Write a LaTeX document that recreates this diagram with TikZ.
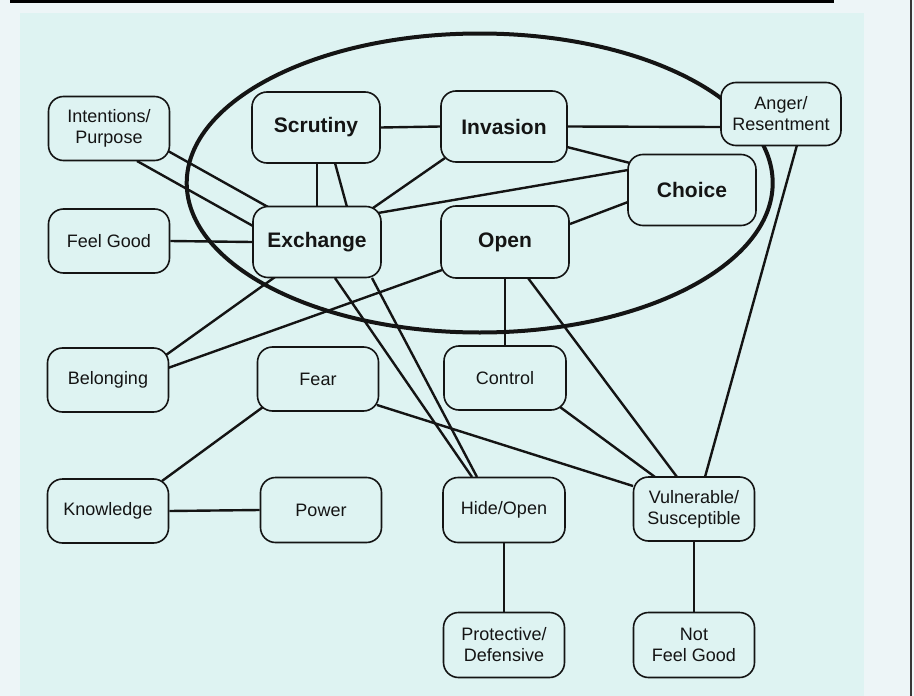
\documentclass[tikz,border=0pt]{standalone}
\usepackage{fontspec}
\setmainfont{Liberation Sans}
\usetikzlibrary{calc}
\definecolor{panel}{RGB}{222,243,242}
\definecolor{outer}{RGB}{237,245,247}
\definecolor{ink}{RGB}{20,20,20}
\pgfdeclarelayer{back}
\pgfdeclarelayer{links}
\pgfsetlayers{back,links,main}
\begin{document}
\begin{tikzpicture}[x=1pt,y=-1pt,
  box/.style={draw=ink, line width=1.6pt, rounded corners=15pt, fill=panel, text=ink,
    font=\fontsize{18}{21}\selectfont, align=center, minimum width=121pt, minimum height=64pt, inner sep=2pt},
  bigbox/.style={box, font=\fontsize{21}{24}\selectfont\bfseries, minimum width=128pt, minimum height=71pt},
  link/.style={draw=ink, line width=2.4pt},
  ring/.style={draw=ink, line width=4pt}]
\useasboundingbox (0,0) rectangle (914,696);
\begin{pgfonlayer}{back}
  \fill[outer] (0,0) rectangle (914,696);
  \fill[panel] (20,13) rectangle (864,696);
  \fill[black] (10,0) rectangle (834,3);
  \fill[ink!85] (910,0) rectangle (912,696);
\end{pgfonlayer}

% nodes
\node[box] (intent) at (109,128.5) {Intentions/\\Purpose};
\node[box] (feelgood) at (109,241) {Feel Good};
\node[box] (belong) at (108,380) {Belonging};
\node[box] (know) at (108,511) {Knowledge};
\node[bigbox] (scrut) at (316,127.5) {Scrutiny};
\node[bigbox, minimum width=126pt] (inv) at (504,126.5) {Invasion};
\node[bigbox] (exch) at (317,242) {Exchange};
\node[bigbox, minimum height=72pt] (open) at (505,242) {Open};
\node[bigbox] (choice) at (692,190) {Choice};
\node[box, minimum width=120pt, minimum height=63pt] (anger) at (781,114) {Anger/\\Resentment};
\node[box] (fear) at (318,379) {Fear};
\node[box, minimum height=65pt] (power) at (321,510) {Power};
\node[box, minimum width=122pt] (control) at (505,378) {Control};
\node[box, minimum width=122pt, minimum height=65pt] (hide) at (504,510) {Hide/Open};
\node[box] (vuln) at (694,509) {Vulnerable/\\Susceptible};
\node[box, minimum height=65pt] (protect) at (504,645) {Protective/\\Defensive};
\node[box, minimum height=65pt] (notfg) at (694,645) {Not\\Feel Good};

\begin{pgfonlayer}{links}
  \draw[ring] (479.7,183) ellipse [x radius=293, y radius=149.5];
  \draw[link] (scrut.east) -- (inv.west);
  \draw[link] (inv.east) -- ($(anger.west)+(0,13)$);
  \draw[link] ($(inv.center)+(63,20.5)$) -- ($(choice.center)+(-62,-27)$);
  \draw[link] ($(inv.center)+(-59,31.5)$) -- ($(exch.center)+(56,-34)$);
  \draw[link] ($(choice.center)+(-64,-20)$) -- ($(exch.center)+(61,-29)$);
  \draw[link] ($(choice.center)+(-64,12)$) -- ($(open.center)+(65,-18)$);
  \draw[link] ($(scrut.south)+(1,0)$) -- (exch.north);
  \draw[link] ($(scrut.center)+(19,35.5)$) -- ($(exch.center)+(30,-35)$);
  \draw[link] ($(intent.center)+(59,22.5)$) -- ($(exch.center)+(-49,-35)$);
  \draw[link] ($(intent.center)+(28,32.5)$) -- ($(exch.center)+(-64,-16)$);
  \draw[link] (feelgood.east) -- (exch.west);
  \draw[link] ($(belong.center)+(58,-25)$) -- ($(exch.center)+(-42,35)$);
  \draw[link] ($(belong.center)+(60,-12)$) -- ($(open.center)+(-63,28)$);
  \draw[link] ($(fear.center)+(-55,28)$) -- ($(know.center)+(54,-30)$);
  \draw[link] (know.east) -- (power.west);
  \draw[link] ($(fear.center)+(59,26)$) -- ($(vuln.center)+(-61,-23)$);
  \draw[link] ($(exch.center)+(18,36)$) -- ($(hide.center)+(-32,-33)$);
  \draw[link] ($(exch.center)+(55,36)$) -- ($(hide.center)+(-27,-33)$);
  \draw[link] (open.south) -- (control.north);
  \draw[link] ($(open.center)+(23,36)$) -- ($(vuln.center)+(-17,-32)$);
  \draw[link] ($(control.center)+(55,29)$) -- ($(vuln.center)+(-39,-32)$);
  \draw[link] ($(anger.center)+(16,31)$) -- ($(vuln.center)+(11,-32)$);
  \draw[link] (hide.south) -- (protect.north);
  \draw[link] (vuln.south) -- (notfg.north);
\end{pgfonlayer}
\end{tikzpicture}
\end{document}
